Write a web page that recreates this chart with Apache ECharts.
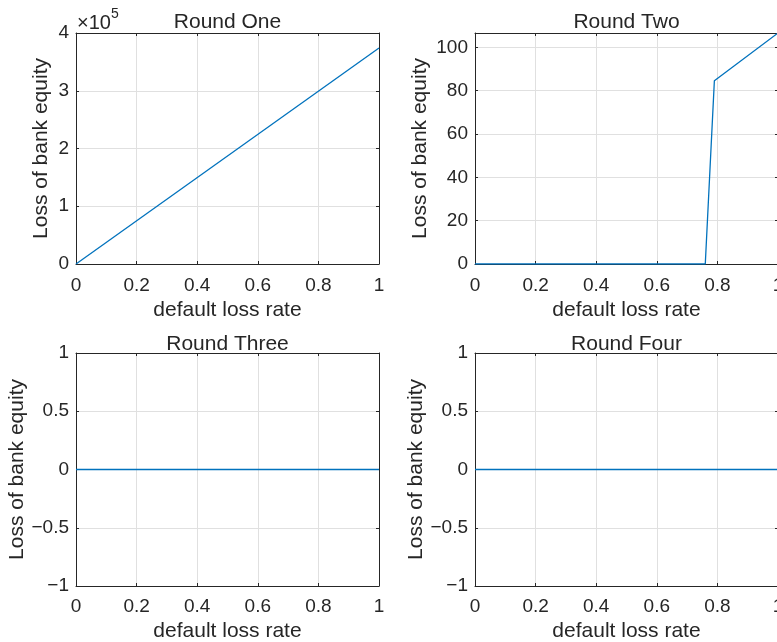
<!DOCTYPE html>
<html>
<head>
<meta charset="utf-8">
<script src="https://cdn.jsdelivr.net/npm/echarts@6/dist/echarts.min.js"></script>
<style>
html,body{margin:0;padding:0;background:#fff;}
#c{width:777px;height:642px;}
</style>
</head>
<body>
<div id="c"></div>
<script>
// ---- data ----
const titles = ['Round One', 'Round Two', 'Round Three', 'Round Four'];
const xLabel = 'default loss rate';
const yLabel = 'Loss of bank equity';

const round1X = [0, 1];
const round1Y = [0, 374000];

const round2X = [0, 0.76, 0.79, 1];
const round2Y = [0, 0, 84.6, 106.6];

const round3X = [0, 1];
const round3Y = [0, 0];

const round4X = [0, 1];
const round4Y = [0, 0];

const xTicks = [0, 0.2, 0.4, 0.6, 0.8, 1];
const yTicks1 = [0, 1, 2, 3, 4];          // x 10^5
const yTicks2 = [0, 20, 40, 60, 80, 100];
const yTicks34 = [-1, -0.5, 0, 0.5, 1];

// ---- layout / style ----
const FONT = '"Liberation Sans", Arial, Helvetica, sans-serif';
const TXT = '#262626';
const LINE = '#0072BD';
const GRIDC = '#e0e0e0';

const grids = [
  {left: 76, top: 33, width: 303, height: 231},
  {left: 475, top: 33, width: 303, height: 231},
  {left: 76, top: 353, width: 303, height: 233},
  {left: 475, top: 353, width: 303, height: 233}
];
const yNameGaps = [24, 44, 47, 47];
const xNameGaps = [36, 36, 35, 35];
const xLabelMargins = [12, 12, 11, 11];

function fmtNum(v) {
  const r = Math.round(v * 1000) / 1000;
  return String(r).replace('-', '\u2212');
}

const yCfg = [
  {min: 0, max: 400000, interval: 100000, fmt: v => fmtNum(v / 100000), ticks: yTicks1},
  {min: 0, max: 106.6, interval: 20, fmt: v => (Math.abs(v % 20) < 1e-9 ? fmtNum(v) : ''), ticks: yTicks2},
  {min: -1, max: 1, interval: 0.5, fmt: fmtNum, ticks: yTicks34},
  {min: -1, max: 1, interval: 0.5, fmt: fmtNum, ticks: yTicks34}
];
const seriesData = [
  [round1X, round1Y],
  [round2X, round2Y],
  [round3X, round3Y],
  [round4X, round4Y]
];

const xAxes = [], yAxes = [], series = [], graphics = [];
const axLine = {show: true, onZero: false, lineStyle: {color: TXT, width: 1}};
const axTick = {show: true, inside: true, length: 3, lineStyle: {color: TXT, width: 1}};

grids.forEach((g, i) => {
  // bottom x axis
  xAxes.push({
    type: 'value', gridIndex: i, position: 'bottom', min: xTicks[0], max: xTicks[xTicks.length - 1], interval: 0.2,
    name: xLabel, nameLocation: 'middle', nameGap: xNameGaps[i],
    nameTextStyle: {fontFamily: FONT, fontSize: 21, color: TXT},
    axisLine: axLine, axisTick: axTick,
    axisLabel: {fontFamily: FONT, fontSize: 19, color: TXT, margin: xLabelMargins[i], formatter: fmtNum},
    splitLine: {show: true, lineStyle: {color: GRIDC, width: 1}}
  });
  // top x axis (box + ticks)
  xAxes.push({
    type: 'value', gridIndex: i, position: 'top', min: xTicks[0], max: xTicks[xTicks.length - 1], interval: 0.2,
    axisLine: axLine, axisTick: axTick, axisLabel: {show: false}, splitLine: {show: false}
  });
  const c = yCfg[i];
  yAxes.push({
    type: 'value', gridIndex: i, position: 'left', min: c.min, max: c.max, interval: c.interval,
    name: yLabel, nameLocation: 'middle', nameGap: yNameGaps[i],
    nameTextStyle: {fontFamily: FONT, fontSize: 21, color: TXT},
    axisLine: axLine, axisTick: axTick,
    axisLabel: {fontFamily: FONT, fontSize: 19, color: TXT, margin: 7, formatter: c.fmt, showMaxLabel: i === 1 ? false : true},
    splitLine: {show: true, lineStyle: {color: GRIDC, width: 1}}
  });
  yAxes.push({
    type: 'value', gridIndex: i, position: 'right', min: c.min, max: c.max, interval: c.interval,
    axisLine: axLine, axisTick: axTick, axisLabel: {show: false}, splitLine: {show: false}
  });
  const [xs, ys] = seriesData[i];
  series.push({
    type: 'line', xAxisIndex: i * 2, yAxisIndex: i * 2,
    data: xs.map((x, k) => [x, ys[k]]),
    showSymbol: false, symbol: 'none', animation: false,
    lineStyle: {color: LINE, width: 1.3}, z: 5
  });
  graphics.push({
    type: 'text', x: g.left + g.width / 2, y: g.top - (i < 2 ? 11 : 9),
    style: {text: titles[i], font: '21px ' + FONT, fill: TXT, align: 'center', verticalAlign: 'middle', textAlign: 'center', textVerticalAlign: 'middle'}
  });
});

graphics.push({
  type: 'text', x: 77, y: 23,
  style: {text: '\u00d710', font: '20px ' + FONT, fill: TXT, align: 'left', verticalAlign: 'middle', textAlign: 'left', textVerticalAlign: 'middle'}
});
graphics.push({
  type: 'text', x: 111, y: 14,
  style: {text: '5', font: '14px ' + FONT, fill: TXT, align: 'left', verticalAlign: 'middle', textAlign: 'left', textVerticalAlign: 'middle'}
});

const chart = echarts.init(document.getElementById('c'), null, {renderer: 'canvas'});
chart.setOption({
  backgroundColor: '#ffffff',
  animation: false,
  grid: grids.map(g => Object.assign({containLabel: false, outerBoundsMode: 'none'}, g)),
  xAxis: xAxes,
  yAxis: yAxes,
  series: series,
  graphic: graphics
});
</script>
</body>
</html>
